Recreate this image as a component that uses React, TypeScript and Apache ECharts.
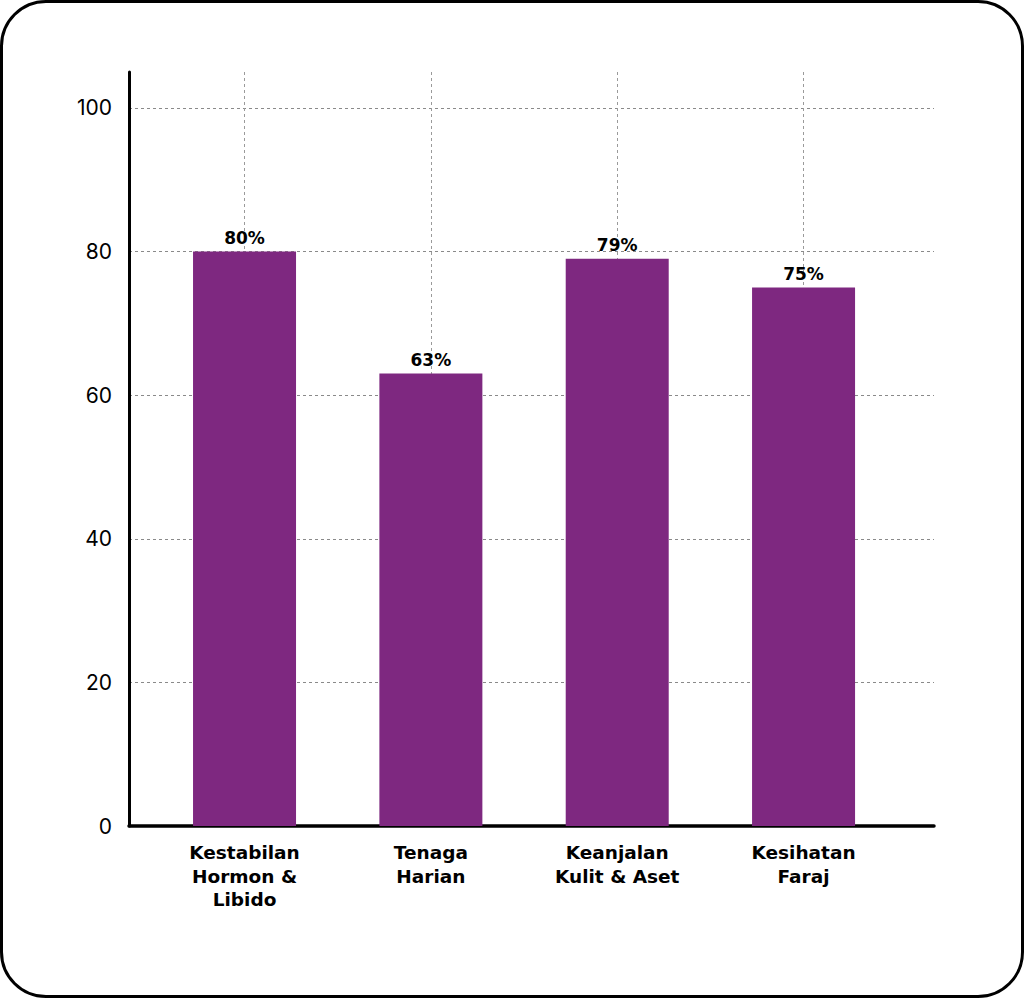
import React, { useEffect, useRef } from "react";
import * as echarts from "echarts";

// Categories and their percentages
const categories = [
  "Kestabilan\nHormon &\nLibido",
  "Tenaga\nHarian",
  "Keanjalan\nKulit & Aset",
  "Kesihatan\nFaraj",
];
const values = [80, 63, 79, 75];
const yTicks = [0, 20, 40, 60, 80, 100];

const FONT = "Inter, 'Noto Sans', sans-serif";
const BOLD_FONT = "'DejaVu Sans', 'Noto Sans', sans-serif";
const PURPLE = "#7E2880";

export default function App() {
  const ref = useRef<HTMLDivElement>(null);

  useEffect(() => {
    if (!ref.current) return;
    const chart = echarts.init(ref.current, undefined, { renderer: "svg" });
    chart.setOption({
      animation: false,
      backgroundColor: "transparent",
      grid: { left: 129, right: 90, top: 72, bottom: 172, containLabel: false },
      xAxis: {
        type: "value",
        min: -0.62,
        max: 3.7,
        axisLine: { show: true, onZero: false, lineStyle: { color: "#000", width: 3.5 } },
        axisTick: { show: false },
        axisLabel: {
          showMinLabel: false,
          showMaxLabel: false,
          margin: 15,
          color: "#000",
          fontFamily: BOLD_FONT,
          fontWeight: "bold",
          fontSize: 18.5,
          lineHeight: 23.5,
          align: "center",
          formatter: (v: number) => (Number.isInteger(v) && categories[v] ? categories[v] : ""),
        },
        splitLine: {
          show: true,
          showMinLine: false,
          showMaxLine: false,
          lineStyle: { color: "#9a9a9a", type: [3, 3], width: 1 },
        },
      },
      yAxis: {
        type: "value",
        min: yTicks[0],
        max: 105,
        interval: 20,
        axisLine: { show: true, onZero: false, lineStyle: { color: "#000", width: 3 } },
        axisTick: { show: false },
        axisLabel: {
          showMaxLabel: false,
          margin: 17,
          color: "#000",
          fontFamily: FONT,
          fontSize: 21,
          formatter: (v: number) => (yTicks.includes(v) ? String(v) : ""),
        },
        splitLine: {
          show: true,
          showMinLine: false,
          showMaxLine: false,
          lineStyle: { color: "#8a8a8a", type: [3, 3], width: 1 },
        },
      },
      series: [
        {
          type: "bar",
          barWidth: 103,
          data: values.map((v, i) => [i, v]),
          itemStyle: { color: PURPLE },
          label: {
            show: true,
            position: "top",
            distance: 5,
            color: "#000",
            fontFamily: BOLD_FONT,
            fontWeight: "bold",
            fontSize: 17,
            formatter: (p: any) => `${p.value[1]}%`,
          },
        },
      ],
    });
    return () => chart.dispose();
  }, []);

  return (
    <div style={{ position: "absolute", left: 0, top: 0, width: 1024, height: 998, background: "#fff" }}>
      <div
        style={{
          position: "absolute",
          left: 0,
          top: 0,
          width: 1024,
          height: 998,
          boxSizing: "border-box",
          border: "3px solid #000",
          borderRadius: 46,
        }}
      />
      <div ref={ref} style={{ position: "absolute", left: 0, top: 0, width: 1024, height: 998 }} />
    </div>
  );
}
